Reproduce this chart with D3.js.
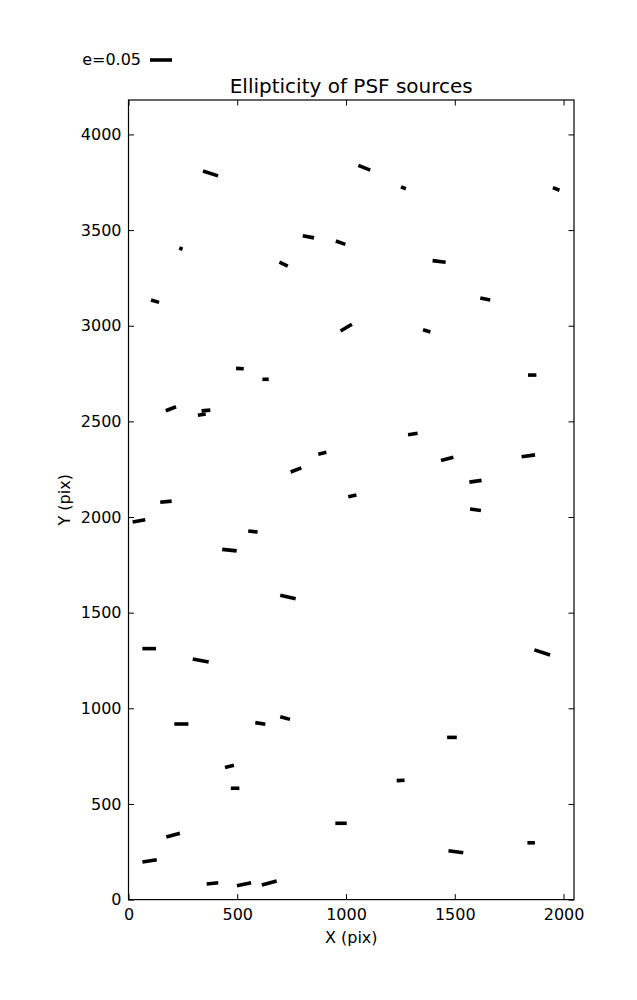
<!DOCTYPE html>
<html>
<head>
<meta charset="utf-8">
<script src="https://cdn.jsdelivr.net/npm/d3@7"></script>
<style>
  html, body { margin: 0; padding: 0; background: #fff; }
  svg { display: block; font-family: "DejaVu Sans", sans-serif; }
</style>
</head>
<body>
<svg id="chart" width="637" height="1000"></svg>
<script>
// Source positions (pix), ellipticity and orientation angle (deg, CCW on screen)
const srcX = [377, 241, 713, 827, 975, 1084, 1264, 1966, 1428, 122, 1001, 512, 630, 195, 337, 356, 770, 891, 1640, 1371, 1856, 1307, 1465, 1838, 1595, 48, 172, 572, 464, 733, 95, 332, 1029, 1595, 1902, 243, 606, 720, 464, 490, 977, 205, 97, 386, 531, 647, 1487, 1251, 1505, 1851];
const srcY = [3796, 3403, 3322, 3465, 3434, 3826, 3721, 3715, 3336, 3128, 2990, 2776, 2720, 2566, 2535, 2557, 2246, 2333, 3140, 2973, 2742, 2434, 2304, 2320, 2187, 1980, 2080, 1924, 1827, 1582, 1312, 1250, 2110, 2038, 1292, 918, 921, 949, 697, 582, 399, 337, 202, 85, 80, 87, 848, 623, 250, 297];
const srcE = [0.036, 0.008, 0.021, 0.026, 0.023, 0.029, 0.012, 0.016, 0.030, 0.019, 0.030, 0.0175, 0.0145, 0.025, 0.018, 0.020, 0.026, 0.019, 0.023, 0.0175, 0.019, 0.022, 0.029, 0.031, 0.028, 0.029, 0.026, 0.0215, 0.033, 0.036, 0.031, 0.037, 0.019, 0.025, 0.0375, 0.032, 0.023, 0.023, 0.021, 0.0195, 0.026, 0.032, 0.033, 0.0265, 0.033, 0.035, 0.022, 0.018, 0.034, 0.017];
const srcTheta = [-18, -20, -25, -11, -19, -22, -22, -21, -7, -16, 31, -3, 0, 21, 9, 5, 21, 14, -11, -17, 0, 8, 14, 8, 8, 10, 6, -6, -6, -13, 0, -11, 12, -7, -18, 0, -9, -15, 14, 0, 0, 15, 9, 6, 12, 15, 0, 3, -8, 0];

const xTicks = [0, 500, 1000, 1500, 2000];
const yTicks = [0, 500, 1000, 1500, 2000, 2500, 3000, 3500, 4000];
const xDomain = [0, 2048];
const yDomain = [0, 4180];
const keyE = 0.05;
const keyLabel = "e=0.05";
const titleText = "Ellipticity of PSF sources";
const xLabelText = "X (pix)";
const yLabelText = "Y (pix)";

const data = srcX.map((x, i) => ({x, y: srcY[i], e: srcE[i], theta: srcTheta[i]}));

const L = {left: 128.5, right: 574, top: 100, bottom: 899.6};
const keyLen = 22;           // pixel length of e=0.05
const lw = 3.6;

const svg = d3.select("#chart");
const x = d3.scaleLinear().domain(xDomain).range([L.left, L.right]);
const y = d3.scaleLinear().domain(yDomain).range([L.bottom, L.top]);
const len = d3.scaleLinear().domain([0, keyE]).range([0, keyLen]);

// axes (ticks inward, on all four sides)
const tickSize = 5.5;
const fs = 16;
svg.append("g").attr("transform", `translate(0,${L.bottom})`)
  .call(d3.axisBottom(x).tickValues(xTicks).tickSize(-tickSize).tickPadding(9).tickFormat(d3.format("d")))
  .call(g => { g.select(".domain").remove(); g.selectAll("text").attr("font-size", fs).attr("font-family", "DejaVu Sans").attr("fill", "#000"); g.selectAll("line").attr("stroke", "#000"); });
svg.append("g").attr("transform", `translate(0,${L.top})`)
  .call(d3.axisTop(x).tickValues(xTicks).tickSize(-tickSize).tickFormat(""))
  .call(g => { g.select(".domain").remove(); g.selectAll("line").attr("stroke", "#000"); });
svg.append("g").attr("transform", `translate(${L.left},0)`)
  .call(d3.axisLeft(y).tickValues(yTicks).tickSize(-tickSize).tickPadding(7).tickFormat(d3.format("d")))
  .call(g => { g.select(".domain").remove(); g.selectAll("text").attr("font-size", fs).attr("font-family", "DejaVu Sans").attr("fill", "#000"); g.selectAll("line").attr("stroke", "#000"); });
svg.append("g").attr("transform", `translate(${L.right},0)`)
  .call(d3.axisRight(y).tickValues(yTicks).tickSize(-tickSize).tickFormat(""))
  .call(g => { g.select(".domain").remove(); g.selectAll("line").attr("stroke", "#000"); });

svg.append("rect")
  .attr("x", L.left).attr("y", L.top)
  .attr("width", L.right - L.left).attr("height", L.bottom - L.top)
  .attr("fill", "none").attr("stroke", "#000").attr("stroke-width", 1.2);

// segments
svg.append("g").selectAll("line").data(data).join("line")
  .each(function(d) {
    const cx = x(d.x), cy = y(d.y), h = len(d.e) / 2, a = d.theta * Math.PI / 180;
    d3.select(this)
      .attr("x1", cx - h * Math.cos(a)).attr("y1", cy + h * Math.sin(a))
      .attr("x2", cx + h * Math.cos(a)).attr("y2", cy - h * Math.sin(a));
  })
  .attr("stroke", "#000").attr("stroke-width", lw).attr("stroke-linecap", "butt");

// title and labels
svg.append("text").attr("x", (L.left + L.right) / 2).attr("y", 93)
  .attr("text-anchor", "middle").attr("font-size", 20).text(titleText);
svg.append("text").attr("x", (L.left + L.right) / 2).attr("y", 943)
  .attr("text-anchor", "middle").attr("font-size", fs).text(xLabelText);
svg.append("text").attr("transform", `translate(70,${(L.top + L.bottom) / 2}) rotate(-90)`)
  .attr("text-anchor", "middle").attr("font-size", fs).text(yLabelText);

// key
svg.append("text").attr("x", 141).attr("y", 65).attr("text-anchor", "end")
  .attr("font-size", fs).text(keyLabel);
svg.append("line")
  .attr("x1", 150).attr("x2", 150 + len(keyE)).attr("y1", 60).attr("y2", 60)
  .attr("stroke", "#000").attr("stroke-width", lw);
</script>
</body>
</html>
